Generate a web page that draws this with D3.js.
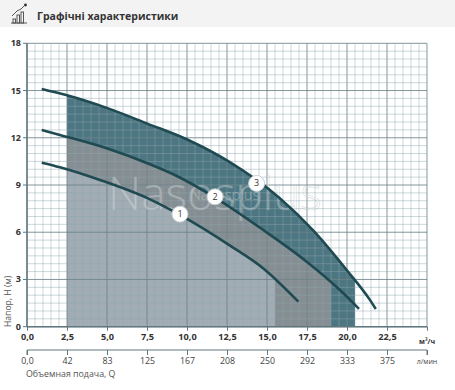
<!DOCTYPE html>
<html>
<head>
<meta charset="utf-8">
<script src="https://cdn.jsdelivr.net/npm/d3@7.9.0/dist/d3.min.js"></script>
<style>
  body { margin: 0; background: #fff; }
  svg { display: block; font-family: "Open Sans", "Noto Sans", sans-serif; }
</style>
</head>
<body>
<svg id="chart" width="455" height="390"></svg>
<script>
// values
const xTicks = [0, 2.5, 5, 7.5, 10, 12.5, 15, 17.5, 20, 22.5];
const xTickLabels = ['0,0', '2,5', '5,0', '7,5', '10,0', '12,5', '15,0', '17,5', '20,0', '22,5'];
const lpmLabels = ['0,0', '42', '83', '125', '167', '208', '250', '292', '333', '375'];
const yTicks = [0, 3, 6, 9, 12, 15, 18];

const curve1Q = [0.92, 2.06, 4.56, 7.69, 9.56, 12.69, 14.77, 16.96];
const curve1H = [10.42, 10.13, 9.32, 8.09, 7.1, 5.15, 3.7, 1.59];
const curve2Q = [0.92, 2.06, 4.98, 7.52, 9.36, 11.75, 14.77, 17.48, 19.56, 20.75];
const curve2H = [12.5, 12.18, 11.33, 10.38, 9.57, 8.2, 6.14, 4.13, 2.33, 1.13];
const curve3Q = [0.92, 2.5, 4.98, 7.52, 10.08, 12.6, 15.8, 17.9, 19.98, 21.4, 21.8];
const curve3H = [15.1, 14.7, 13.9, 12.9, 11.86, 10.5, 8.16, 6.1, 3.6, 1.75, 1.12];

const fillStart = 2.5;
const fillEnd = [15.5, 19, 20.5];
const fillColors = ['#a1acb4', '#858e93', '#4c7682'];
const curveNames = ['1', '2', '3'];
const labelQ = [9.56, 11.75, 14.35];
const labelH = [7.15, 8.25, 9.1];

const svg = d3.select('#chart');

// header band
svg.append('rect').attr('x', 0).attr('y', 0).attr('width', 455).attr('height', 27).attr('fill', '#f3f3f3');
const icon = svg.append('g').attr('stroke', '#555').attr('fill', 'none').attr('stroke-width', 1);
icon.append('line').attr('x1', 11).attr('y1', 23).attr('x2', 27).attr('y2', 23);
[[13, 19], [17, 15], [21, 12]].forEach(([bx, by]) => {
    icon.append('rect').attr('x', bx).attr('y', by).attr('width', 2.5).attr('height', 23 - by);
});
icon.append('path').attr('d', 'M12,16 L17,11 L21,9 L25,5');
svg.append('circle').attr('cx', 25.5).attr('cy', 5).attr('r', 1.4).attr('fill', '#333');
svg.append('text').attr('x', 37).attr('y', 19.5)
    .attr('font-size', 10.5).attr('font-weight', 700).attr('fill', '#333')
    .text('Графічні характеристики');

const x = d3.scaleLinear().domain([0, 25]).range([27, 427]);
const y = d3.scaleLinear().domain([0, 18]).range([326.7, 43.3]);

// fills, clipped to their flow range
const curves = [
    curve1Q.map((q, i) => [q, curve1H[i]]),
    curve2Q.map((q, i) => [q, curve2H[i]]),
    curve3Q.map((q, i) => [q, curve3H[i]])
];
const area = d3.area().x(d => x(d[0])).y0(y(0)).y1(d => y(d[1])).curve(d3.curveMonotoneX);
const line = d3.line().x(d => x(d[0])).y(d => y(d[1])).curve(d3.curveMonotoneX);

const defs = svg.append('defs');
[2, 1, 0].forEach(i => {
    defs.append('clipPath').attr('id', 'clip' + i)
        .append('rect')
        .attr('x', x(fillStart)).attr('y', y(18))
        .attr('width', x(fillEnd[i]) - x(fillStart))
        .attr('height', y(0) - y(18));
    svg.append('path')
        .attr('d', area(curves[i]))
        .attr('fill', fillColors[i])
        .attr('clip-path', `url(#clip${i})`);
});

// grid on top of the fills
const grid = svg.append('g');
d3.range(0, 25.01, 0.5).forEach(v => {
    const major = Math.abs(v / 2.5 - Math.round(v / 2.5)) < 1e-6;
    grid.append('line')
        .attr('x1', x(v)).attr('x2', x(v)).attr('y1', y(0)).attr('y2', y(18))
        .attr('stroke', major ? '#6f8489' : '#8fa6ad')
        .attr('stroke-opacity', major ? 0.85 : 0.45)
        .attr('stroke-width', 1);
});
d3.range(0, 18.01, 0.5).forEach(v => {
    const major = Math.abs(v / 3 - Math.round(v / 3)) < 1e-6;
    grid.append('line')
        .attr('x1', x(0)).attr('x2', x(25)).attr('y1', y(v)).attr('y2', y(v))
        .attr('stroke', major ? '#6f8489' : '#8fa6ad')
        .attr('stroke-opacity', major ? 0.85 : 0.45)
        .attr('stroke-width', 1);
});

// watermark
svg.append('text').attr('x', 108).attr('y', 210)
    .attr('font-size', 46).attr('font-weight', 300)
    .attr('fill', '#fff').attr('fill-opacity', 0.3)
    .attr('stroke', '#9aa').attr('stroke-opacity', 0.4).attr('stroke-width', 0.7)
    .text('Nasosplus');
svg.append('text').attr('x', 190).attr('y', 200)
    .attr('font-size', 15).attr('font-weight', 300)
    .attr('fill', '#fff').attr('fill-opacity', 0.3)
    .attr('stroke', '#9aa').attr('stroke-opacity', 0.35).attr('stroke-width', 0.5)
    .text('Nasosplus');

// pump curves
curves.forEach(c => {
    svg.append('path').attr('d', line(c))
        .attr('fill', 'none').attr('stroke', '#1f4a51')
        .attr('stroke-width', 2.6);
});

// curve markers
curveNames.forEach((n, i) => {
    svg.append('circle').attr('cx', x(labelQ[i])).attr('cy', y(labelH[i])).attr('r', 8)
        .attr('fill', '#fff').attr('stroke', '#c8cfd2').attr('stroke-width', 1);
    svg.append('text').attr('x', x(labelQ[i])).attr('y', y(labelH[i]) + 3)
        .attr('text-anchor', 'middle').attr('font-size', 9).attr('fill', '#333')
        .text(n);
});

// axes
const axisColor = '#60777d';
svg.append('line').attr('x1', x(0)).attr('x2', x(0)).attr('y1', y(0)).attr('y2', y(18))
    .attr('stroke', axisColor).attr('stroke-width', 1.5);
svg.append('line').attr('x1', x(0)).attr('x2', x(25)).attr('y1', y(0)).attr('y2', y(0))
    .attr('stroke', axisColor).attr('stroke-width', 1.5);

yTicks.forEach(v => {
    svg.append('line').attr('x1', x(0) - 4).attr('x2', x(0)).attr('y1', y(v)).attr('y2', y(v))
        .attr('stroke', axisColor);
    svg.append('text').attr('x', 21).attr('y', y(v) + 3)
        .attr('text-anchor', 'end').attr('font-size', 9).attr('font-weight', 700).attr('fill', '#333')
        .text(v);
});

const xAxis = d3.axisBottom(x).tickValues(xTicks.concat([25])).tickSize(4)
    .tickFormat((d, i) => i < xTickLabels.length ? xTickLabels[i] : '');
const gx = svg.append('g').attr('transform', `translate(0,${y(0)})`).call(xAxis);
gx.select('.domain').remove();
gx.selectAll('line').attr('stroke', axisColor);
gx.selectAll('text').attr('font-size', 9.2).attr('font-weight', 700).attr('fill', '#333')
    .attr('font-family', '"Open Sans", sans-serif');
svg.append('text').attr('x', x(25)).attr('y', 344)
    .attr('text-anchor', 'middle').attr('font-size', 7).attr('font-weight', 700).attr('fill', '#333')
    .text('м³/ч');

// second axis in l/min
const lpmAxis = d3.axisBottom(x).tickValues(xTicks.concat([25])).tickSize(5)
    .tickFormat((d, i) => i < lpmLabels.length ? lpmLabels[i] : '');
const gl = svg.append('g').attr('transform', 'translate(0,350)').call(lpmAxis);
gl.select('.domain').attr('stroke', axisColor).attr('d', `M${x(0)},5V0H${x(25)}V5`);
gl.selectAll('line').attr('stroke', axisColor);
gl.selectAll('text').attr('font-size', 8.8).attr('fill', '#444')
    .attr('font-family', '"Open Sans", sans-serif');
svg.append('text').attr('x', x(25)).attr('y', 364)
    .attr('text-anchor', 'middle').attr('font-size', 7).attr('fill', '#444')
    .text('л/мин');

svg.append('text').attr('x', 26).attr('y', 377)
    .attr('font-size', 8.8).attr('fill', '#555')
    .text('Объемная подача, Q');
svg.append('text').attr('transform', 'translate(10.5,327) rotate(-90)')
    .attr('font-size', 8.6).attr('fill', '#555')
    .text('Напор, Н (м)');
</script>
</body>
</html>
